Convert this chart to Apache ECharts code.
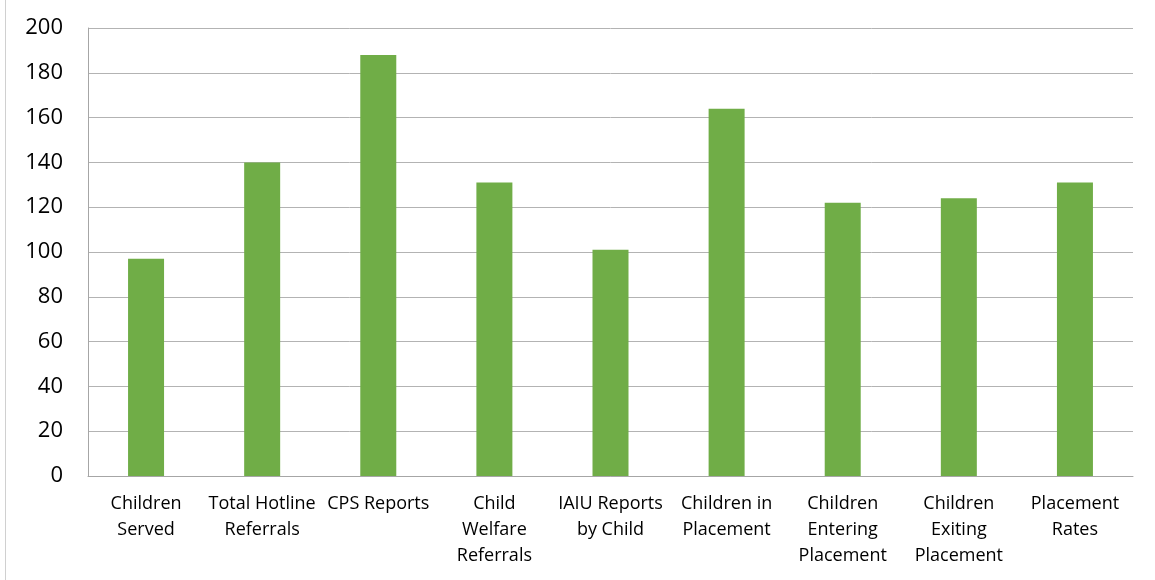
<!DOCTYPE html>
<html>
<head>
<meta charset="utf-8">
<script src="https://cdn.jsdelivr.net/npm/echarts@6/dist/echarts.min.js"></script>
<style>
html,body{margin:0;padding:0;background:#fff;}
#frame{position:absolute;left:5px;top:0;width:1px;height:580px;background:#d0d0d0;}
#chart{width:1155px;height:580px;}
</style>
</head>
<body>
<div id="chart"></div>
<div id="frame"></div>
<script>
const categories = [
  "Children\nServed",
  "Total Hotline\nReferrals",
  "CPS Reports",
  "Child\nWelfare\nReferrals",
  "IAIU Reports\nby Child",
  "Children in\nPlacement",
  "Children\nEntering\nPlacement",
  "Children\nExiting\nPlacement",
  "Placement\nRates"
];
const values = [97, 140, 188, 131, 101, 164, 122, 124, 131];
const yMin = 0, yMax = 200, yStep = 20;

const chart = echarts.init(document.getElementById('chart'), null, {renderer: 'canvas'});
const font = '"Open Sans", sans-serif';
chart.setOption({
  animation: false,
  grid: {left: 88, right: 22, top: 28, bottom: 104, containLabel: false},
  xAxis: {
    type: 'category',
    data: categories,
    axisLine: {show: true, lineStyle: {color: '#a6a6a6', width: 1}},
    axisTick: {show: false},
    axisLabel: {interval: 0, margin: 15, fontFamily: font, fontSize: 18, color: '#000', lineHeight: 26, align: 'center'}
  },
  yAxis: {
    type: 'value',
    min: yMin, max: yMax, interval: yStep,
    axisLine: {show: true, lineStyle: {color: '#a6a6a6', width: 1}},
    axisTick: {show: false},
    splitLine: {show: true, lineStyle: {color: '#b3b3b3', width: 1}},
    axisLabel: {margin: 25, fontFamily: font, fontSize: 22, color: '#000'}
  },
  series: [{
    type: 'bar',
    data: values,
    barWidth: 36,
    itemStyle: {color: '#70ad47'}
  }]
});
</script>
</body>
</html>
